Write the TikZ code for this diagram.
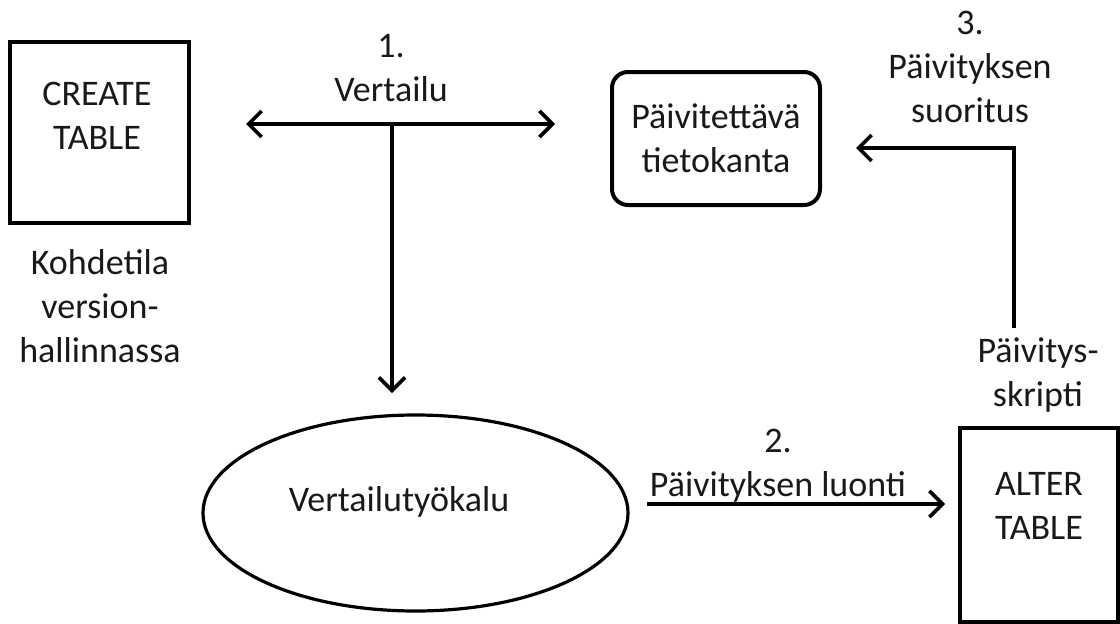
\documentclass[tikz,border=0pt]{standalone}
\usepackage{fontspec}
\setmainfont{Carlito}
\usetikzlibrary{arrows.meta,shapes.geometric}
\begin{document}
\begin{tikzpicture}[x=1pt,y=-1pt,
  every node/.style={font=\fontsize{36}{44}\selectfont, text=black!90, inner sep=0pt, align=center},
  boxnode/.style={draw=black, line width=4.3pt, rectangle},
  dbnode/.style={draw=black, line width=4pt, rectangle, rounded corners=16pt},
  toolnode/.style={draw=black, line width=3.2pt, ellipse},
  lbl/.style={},
  conn/.style={line width=3.6pt, -{Straight Barb[length=13pt,width=26pt,line width=3.6pt]}},
  dconn/.style={line width=3.6pt, {Straight Barb[length=13pt,width=26pt,line width=3.6pt]}-{Straight Barb[length=13pt,width=26pt,line width=3.6pt]}},
  plain/.style={line width=3.6pt}]
\useasboundingbox (0,0) rectangle (1120,624);

% nodes
\node[boxnode, minimum width=179pt, minimum height=181pt] (create) at (99.5,132.5) {};
\node[lbl] (createlbl) at (97,116) {CREATE\\TABLE};
\node[lbl] (kohde) at (100,306) {Kohdetila\\version-\\hallinnassa};

\node[dbnode, minimum width=208pt, minimum height=133pt] (db) at (716,138.5) {P\"aivitett\"av\"a\\tietokanta};

\node[toolnode, minimum width=425pt, minimum height=196pt] (tool) at (415.5,513) {};
\node[lbl] (toollbl) at (399,502) {Vertailuty\"okalu};

\node[boxnode, minimum width=158pt, minimum height=194pt] (alter) at (1039,525) {};
\node[lbl] (alterlbl) at (1039,506) {ALTER\\TABLE};

% labels
\node[lbl] (l1) at (391,68) {1.\\Vertailu};
\node[lbl] (l2) at (778,466) {2.\\P\"aivityksen luonti};
\node[lbl] (l3) at (970,67) {3.\\P\"aivityksen\\suoritus};
\node[lbl] (lskr) at (1038,375) {P\"aivitys-\\skripti};

% connector end points
\coordinate (aL) at (246,124);
\coordinate (aR) at (555,124);
\coordinate (aM) at (392,124);
\coordinate (aB) at (392,393);
\coordinate (bS) at (647,504);
\coordinate (bE) at (945,504);
\coordinate (cS) at (1014,328);
\coordinate (cC) at (1014,148);
\coordinate (cE) at (856,148);

% connectors
\draw[dconn] (aL) -- (aR);
\draw[conn] (aM) -- (aB);
\draw[conn] (bS) -- (bE);
\draw[conn, line join=miter] (cS) -- (cC) -- (cE);
\end{tikzpicture}
\end{document}
